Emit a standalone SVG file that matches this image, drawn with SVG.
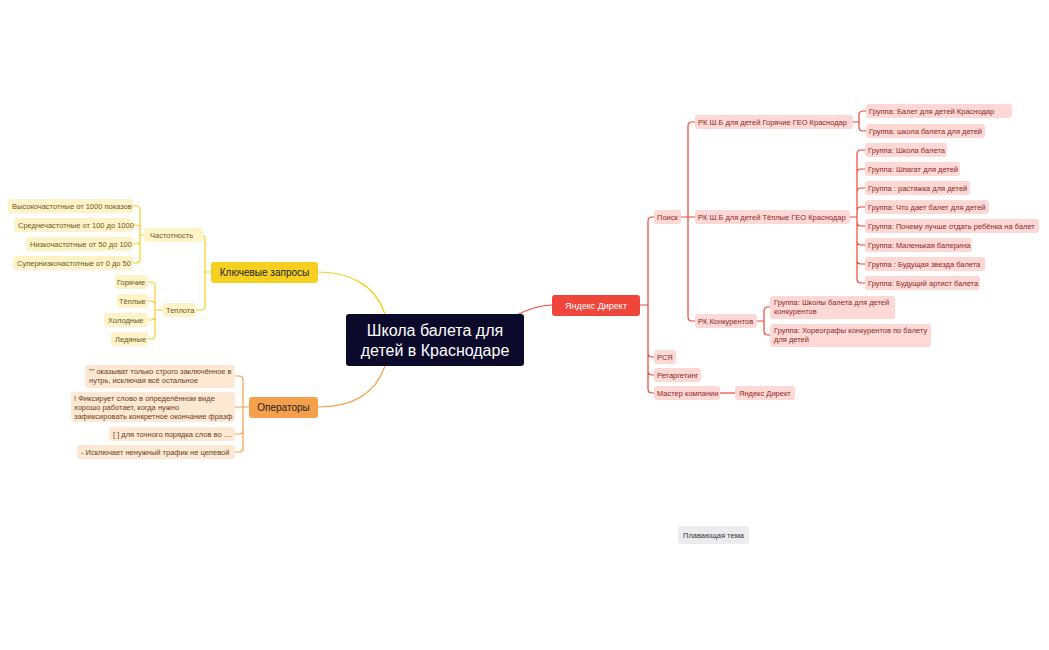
<svg xmlns="http://www.w3.org/2000/svg" width="1049" height="650" viewBox="0 0 1049 650">
<style>
text{font-family:"Liberation Sans",Arial,sans-serif}
.y rect{fill:#fdf3c8}.y text{fill:#6b5a1e;font-size:7.5px}
.o rect{fill:#fde8d4}.o text{fill:#6b3d1e;font-size:7.5px}
.r rect{fill:#fdd8d5}.r text{fill:#8a2a2a;font-size:7.5px}
.cy{fill:none;stroke:#f5d020;stroke-width:1.2}
.co{fill:none;stroke:#f5a04a;stroke-width:1.2}
.cr{fill:none;stroke:#f0453a;stroke-width:1.2}
</style>
<rect width="1049" height="650" fill="#fff"/>
<g id="connectors">
<path class="cy" d="M385,314 C375,285 350,272 318,272"/>
<path class="co" d="M385,366 C375,395 350,407 318,407"/>
<path class="cr" d="M515,316 C530,308 540,305 552,305"/>
<path class="cy" d="M211,272 H205 M205,272 V239 Q205,235 201,235 H203 M205,272 V306 Q205,310 201,310 H196"/>
<path class="cy" d="M144,235 H140 M140,235 V210 Q140,206 136,206 H133 M140,235 V229 Q140,225 136,225 H133 M140,235 V240 Q140,244 136,244 H133 M140,235 V259 Q140,263 136,263 H133"/>
<path class="cy" d="M163,310 H155 M155,310 V286 Q155,282 151,282 H148 M155,310 V305 Q155,301 151,301 H148 M155,310 V316 Q155,320 151,320 H148 M155,310 V335 Q155,339 151,339 H148"/>
<path class="co" d="M249,407 H243 M243,407 V380 Q243,376 239,376 H235 M243,407 H235 M243,407 V430 Q243,434 239,434 H235 M243,407 V448 Q243,452 239,452 H235"/>
<path class="cr" d="M640,305 H648 M648,305 V221 Q648,217 652,217 H654 M648,305 V353 Q648,357 652,357 H654 M648,305 V371 Q648,375 652,375 H654 M648,305 V389 Q648,393 652,393 H654"/>
<path class="cr" d="M720,393 H735"/>
<path class="cr" d="M681,217 H688 M688,217 V126 Q688,122 692,122 H695 M688,217 H695 M688,217 V317 Q688,321 692,321 H695"/>
<path class="cr" d="M853,122 H859 M859,122 V115 Q859,111 863,111 H866 M859,122 V127 Q859,131 863,131 H866"/>
<path class="cr" d="M850,217 H857 M857,217 V154 Q857,150 861,150 H865 M857,217 V173 Q857,169 861,169 H865 M857,217 V192 Q857,188 861,188 H865 M857,217 V211 Q857,207 861,207 H865 M857,217 V222 Q857,226 861,226 H865 M857,217 V241 Q857,245 861,245 H865 M857,217 V260 Q857,264 861,264 H865 M857,217 V279 Q857,283 861,283 H865"/>
<path class="cr" d="M757,321 H764 M764,321 V311 Q764,307 768,307 H770 M764,321 V331 Q764,335 768,335 H770"/>
</g>
<g id="center"><rect x="346" y="314" width="178" height="52" rx="3" fill="#0b0a2b"/><text x="435" y="336" fill="#fff" font-size="16" text-anchor="middle">Школа балета для</text><text x="435" y="356" fill="#fff" font-size="16" text-anchor="middle">детей в Краснодаре</text></g>
<g id="kz"><rect x="211" y="262" width="107" height="21" rx="3" fill="#f5d020"/><text x="264.5" y="276" font-size="10" fill="#222" text-anchor="middle">Ключевые запросы</text></g>
<g id="op"><rect x="249" y="397" width="69" height="21" rx="3" fill="#f5a04a"/><text x="283.5" y="411" font-size="10" fill="#222" text-anchor="middle">Операторы</text></g>
<g id="yd"><rect x="552" y="295" width="88" height="21" rx="3" fill="#f0453a"/><text x="596" y="309" font-size="9" fill="#fff" text-anchor="middle">Яндекс Директ</text></g>
<g class="y">
<g id="y1"><rect x="144" y="228" width="59" height="14" rx="3"/><text x="150" y="238">Частотность</text></g>
<g id="y2"><rect x="8" y="199" width="125" height="14" rx="3"/><text x="12" y="209">Высокочастотные от 1000 показов</text></g>
<g id="y3"><rect x="14" y="218" width="119" height="14" rx="3"/><text x="18" y="228">Среднечастотные от 100 до 1000</text></g>
<g id="y4"><rect x="26" y="237" width="107" height="14" rx="3"/><text x="30" y="247">Низкочастотные от 50 до 100</text></g>
<g id="y5"><rect x="13" y="256" width="120" height="14" rx="3"/><text x="17" y="266">Супернизкочастотные от 0 до 50</text></g>
<g id="y6"><rect x="163" y="303" width="33" height="14" rx="3"/><text x="166" y="313">Теплота</text></g>
<g id="y7"><rect x="115" y="275" width="33" height="14" rx="3"/><text x="117" y="285">Горячие</text></g>
<g id="y8"><rect x="117" y="294" width="31" height="14" rx="3"/><text x="119" y="304">Тёплые</text></g>
<g id="y9"><rect x="104" y="313" width="44" height="14" rx="3"/><text x="108" y="323">Холодные</text></g>
<g id="y10"><rect x="111" y="332" width="37" height="14" rx="3"/><text x="115" y="342">Ледяные</text></g>
</g>
<g class="o">
<g id="o1"><rect x="85" y="365" width="150" height="23" rx="3"/><text x="89" y="374">"" оказыват только строго заключённое в</text><text x="89" y="383">нутрь, исключая всё остальное</text></g>
<g id="o2"><rect x="71" y="392" width="164" height="30" rx="3"/><text x="74" y="401">! Фиксирует слово в определённом виде</text><text x="74" y="410">хорошо работает, когда нужно</text><text x="74" y="419">зафиксировать конкретное окончание фразф</text></g>
<g id="o3"><rect x="109" y="427" width="126" height="14" rx="3"/><text x="113" y="437">[ ] для точного порядка слов во ....</text></g>
<g id="o4"><rect x="77" y="445" width="158" height="14" rx="3"/><text x="81" y="455">- Исключает ненужный трафик не целевой</text></g>
</g>
<g class="r">
<g id="r1"><rect x="654" y="210" width="27" height="14" rx="3"/><text x="657" y="220">Поиск</text></g>
<g id="r2"><rect x="695" y="115" width="158" height="14" rx="3"/><text x="698" y="125">РК Ш.Б для детей  Горячие ГЕО Краснодар</text></g>
<g id="r3"><rect x="866" y="104" width="146" height="14" rx="3"/><text x="869" y="114">Группа: Балет для детей Краснодар</text></g>
<g id="r4"><rect x="866" y="124" width="119" height="14" rx="3"/><text x="869" y="134">Группа: школа балета для детей</text></g>
<g id="r5"><rect x="695" y="210" width="155" height="14" rx="3"/><text x="698" y="220">РК Ш.Б для детей  Тёплые ГЕО Краснодар</text></g>
<g id="r6"><rect x="865" y="143" width="82" height="14" rx="3"/><text x="868" y="153">Группа: Школа балета</text></g>
<g id="r7"><rect x="865" y="162" width="95" height="14" rx="3"/><text x="868" y="172">Группа: Шпагат для детей</text></g>
<g id="r8"><rect x="865" y="181" width="105" height="14" rx="3"/><text x="868" y="191">Группа : растяжка для детей</text></g>
<g id="r9"><rect x="865" y="200" width="124" height="14" rx="3"/><text x="868" y="210">Группа: Что дает балет для детей</text></g>
<g id="r10"><rect x="865" y="219" width="174" height="14" rx="3"/><text x="868" y="229">Группа: Почему  лучше отдать ребёнка на балет</text></g>
<g id="r11"><rect x="865" y="238" width="107" height="14" rx="3"/><text x="868" y="248">Группа: Маленькая балерина</text></g>
<g id="r12"><rect x="865" y="257" width="120" height="14" rx="3"/><text x="868" y="267">Группа :  Будущая звезда балета</text></g>
<g id="r13"><rect x="865" y="276" width="115" height="14" rx="3"/><text x="868" y="286">Группа: Будущий артист балета</text></g>
<g id="r14"><rect x="695" y="314" width="62" height="14" rx="3"/><text x="698" y="324">РК Конкурентов</text></g>
<g id="r15"><rect x="770" y="296" width="125" height="23" rx="3"/><text x="774" y="305">Группа: Школы балета для детей</text><text x="774" y="314">конкурентов</text></g>
<g id="r16"><rect x="770" y="324" width="161" height="23" rx="3"/><text x="774" y="333">Группа: Хореографы конкурентов по балету</text><text x="774" y="342">для детей</text></g>
<g id="r17"><rect x="654" y="350" width="22" height="14" rx="3"/><text x="657" y="360">РСЯ</text></g>
<g id="r18"><rect x="654" y="368" width="47" height="14" rx="3"/><text x="657" y="378">Ретаргетинг</text></g>
<g id="r19"><rect x="654" y="386" width="66" height="14" rx="3"/><text x="657" y="396">Мастер компании</text></g>
<g id="r20"><rect x="735" y="386" width="60" height="14" rx="3"/><text x="739" y="396">Яндекс Директ</text></g>
</g>
<g id="float"><rect x="678" y="526" width="71" height="18" rx="3" fill="#ececf0"/><text x="713.5" y="538" font-size="7.5" fill="#333" text-anchor="middle">Плавающая тема</text></g>
</svg>
